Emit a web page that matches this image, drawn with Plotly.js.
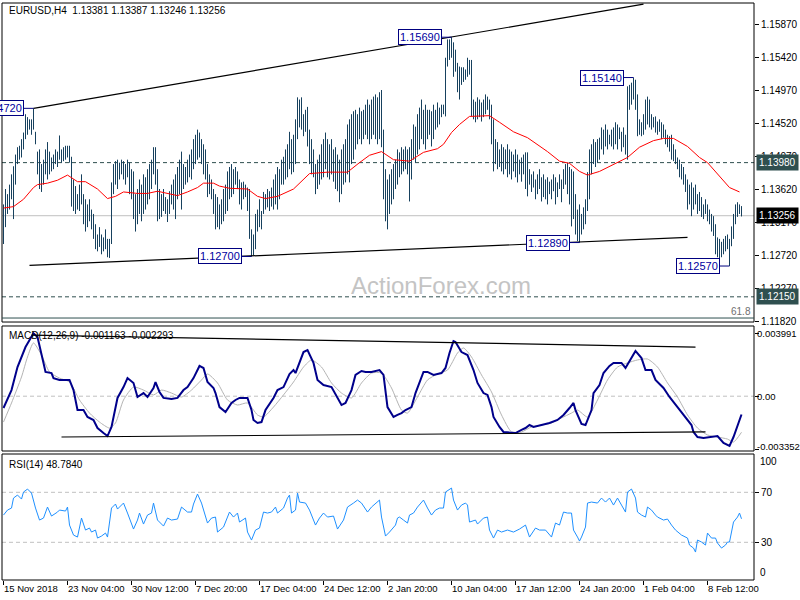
<!DOCTYPE html>
<html>
<head>
<meta charset="utf-8">
<script src="https://cdn.plot.ly/plotly-3.0.1.min.js"></script>
<style>html,body{margin:0;padding:0;background:#fff;}#chart{width:800px;height:600px;}</style>
</head>
<body>
<div id="chart"></div>
<script>
// ---------------- DATA ----------------
const xTickIdx = [0,32,64,96,128,160,192,224,256,288,320,352];
const xTickText = ['15 Nov 2018','23 Nov 04:00','30 Nov 12:00','7 Dec 20:00','17 Dec 04:00','24 Dec 12:00','2 Jan 20:00','10 Jan 04:00','17 Jan 12:00','24 Jan 20:00','1 Feb 04:00','8 Feb 12:00'];
const priceTicks = [1.1587,1.1542,1.1497,1.1452,1.1407,1.1362,1.1317,1.1272,1.1227,1.1182];

const priceHigh = [
1.1341,1.1362,1.1355,1.1368,1.1382,1.1393,1.1409,1.1419,1.1421,1.1430,
1.1439,1.1464,1.1460,1.1457,1.1457,1.1472,1.1440,1.1413,1.1416,1.1396,
1.1402,1.1416,1.1426,1.1413,1.1405,1.1409,1.1416,1.1413,1.1435,1.1416,
1.1419,1.1421,1.1421,1.1421,1.1406,1.1375,1.1366,1.1355,1.1368,1.1382,
1.1355,1.1348,1.1341,1.1348,1.1334,1.1328,1.1314,1.1300,1.1310,1.1300,
1.1296,1.1307,1.1294,1.1294,1.1371,1.1396,1.1400,1.1402,1.1398,1.1402,
1.1400,1.1396,1.1402,1.1398,1.1389,1.1386,1.1355,1.1362,1.1375,1.1368,
1.1382,1.1378,1.1389,1.1396,1.1402,1.1419,1.1419,1.1389,1.1362,1.1355,
1.1362,1.1351,1.1348,1.1359,1.1368,1.1375,1.1382,1.1392,1.1402,1.1413,
1.1396,1.1392,1.1402,1.1409,1.1416,1.1430,1.1436,1.1443,1.1439,1.1430,
1.1423,1.1416,1.1396,1.1382,1.1375,1.1362,1.1355,1.1351,1.1341,1.1348,
1.1362,1.1368,1.1386,1.1392,1.1396,1.1389,1.1392,1.1386,1.1375,1.1371,
1.1372,1.1368,1.1364,1.1362,1.1307,1.1300,1.1328,1.1334,1.1348,1.1332,
1.1358,1.1355,1.1362,1.1359,1.1364,1.1375,1.1382,1.1392,1.1389,1.1402,
1.1406,1.1416,1.1423,1.1440,1.1430,1.1436,1.1457,1.1487,1.1484,1.1487,
1.1464,1.1470,1.1474,1.1443,1.1430,1.1416,1.1396,1.1402,1.1409,1.1423,
1.1430,1.1439,1.1430,1.1423,1.1430,1.1416,1.1419,1.1409,1.1402,1.1416,
1.1423,1.1430,1.1450,1.1457,1.1464,1.1468,1.1470,1.1464,1.1473,1.1468,
1.1470,1.1477,1.1484,1.1477,1.1484,1.1488,1.1491,1.1487,1.1494,1.1497,
1.1443,1.1389,1.1375,1.1382,1.1389,1.1396,1.1402,1.1416,1.1412,1.1419,
1.1416,1.1420,1.1416,1.1419,1.1430,1.1450,1.1447,1.1464,1.1473,1.1484,
1.1470,1.1477,1.1470,1.1470,1.1468,1.1477,1.1470,1.1480,1.1473,1.1477,
1.1477,1.1541,1.1566,1.1566,1.1569,1.1562,1.1552,1.1534,1.1529,1.1528,
1.1528,1.1525,1.1541,1.1538,1.1538,1.1484,1.1481,1.1487,1.1484,1.1480,
1.1484,1.1491,1.1488,1.1484,1.1477,1.1457,1.1430,1.1426,1.1416,1.1423,
1.1419,1.1416,1.1423,1.1416,1.1413,1.1409,1.1416,1.1409,1.1402,1.1405,
1.1409,1.1412,1.1412,1.1389,1.1382,1.1386,1.1375,1.1382,1.1389,1.1378,
1.1382,1.1375,1.1378,1.1372,1.1375,1.1382,1.1378,1.1371,1.1382,1.1375,
1.1389,1.1396,1.1398,1.1392,1.1389,1.1386,1.1355,1.1334,1.1341,1.1328,
1.1337,1.1348,1.1385,1.1416,1.1423,1.1430,1.1426,1.1430,1.1432,1.1446,
1.1443,1.1450,1.1443,1.1436,1.1443,1.1446,1.1453,1.1450,1.1446,1.1440,
1.1446,1.1436,1.1502,1.1504,1.1507,1.1514,1.1511,1.1491,1.1457,1.1453,
1.1464,1.1484,1.1488,1.1484,1.1464,1.1460,1.1461,1.1454,1.1457,1.1453,
1.1450,1.1443,1.1436,1.1434,1.1436,1.1423,1.1416,1.1405,1.1402,1.1396,
1.1392,1.1382,1.1375,1.1368,1.1371,1.1364,1.1368,1.1355,1.1358,1.1351,
1.1341,1.1348,1.1341,1.1334,1.1328,1.1325,1.1314,1.1296,1.1294,1.1290,
1.1294,1.1298,1.1300,1.1294,1.1311,1.1328,1.1341,1.1344,1.1341,1.13387];

const priceLow = [
1.1287,1.1310,1.1328,1.1334,1.1348,1.1321,1.1368,1.1396,1.1402,1.1405,
1.1416,1.1430,1.1436,1.1443,1.1436,1.1443,1.1423,1.1382,1.1362,1.1358,
1.1368,1.1382,1.1375,1.1382,1.1386,1.1389,1.1396,1.1392,1.1402,1.1398,
1.1400,1.1402,1.1405,1.1398,1.1338,1.1332,1.1328,1.1334,1.1332,1.1341,
1.1314,1.1304,1.1310,1.1318,1.1307,1.1294,1.1280,1.1277,1.1283,1.1273,
1.1277,1.1280,1.1269,1.1268,1.1287,1.1355,1.1368,1.1362,1.1375,1.1382,
1.1375,1.1368,1.1378,1.1355,1.1348,1.1321,1.1304,1.1314,1.1328,1.1318,
1.1328,1.1334,1.1341,1.1348,1.1362,1.1382,1.1368,1.1318,1.1321,1.1324,
1.1332,1.1328,1.1317,1.1328,1.1341,1.1334,1.1321,1.1348,1.1355,1.1334,
1.1362,1.1368,1.1371,1.1378,1.1375,1.1389,1.1396,1.1402,1.1405,1.1396,
1.1382,1.1375,1.1351,1.1355,1.1348,1.1328,1.1307,1.1310,1.1307,1.1314,
1.1318,1.1328,1.1332,1.1348,1.1351,1.1355,1.1368,1.1362,1.1341,1.1334,
1.1348,1.1351,1.1332,1.1294,1.1270,1.1272,1.1280,1.1304,1.1310,1.1307,
1.1328,1.1334,1.1337,1.1332,1.1338,1.1334,1.1341,1.1334,1.1348,1.1368,
1.1368,1.1375,1.1378,1.1389,1.1382,1.1385,1.1396,1.1430,1.1446,1.1443,
1.1434,1.1440,1.1420,1.1396,1.1382,1.1378,1.1355,1.1362,1.1368,1.1375,
1.1378,1.1389,1.1378,1.1375,1.1382,1.1372,1.1362,1.1359,1.1344,1.1355,
1.1368,1.1371,1.1382,1.1371,1.1396,1.1402,1.1416,1.1423,1.1430,1.1423,
1.1430,1.1436,1.1430,1.1423,1.1430,1.1436,1.1430,1.1423,1.1430,1.1419,
1.1348,1.1318,1.1307,1.1328,1.1341,1.1348,1.1362,1.1368,1.1378,1.1382,
1.1386,1.1389,1.1382,1.1345,1.1375,1.1402,1.1398,1.1409,1.1416,1.1430,
1.1423,1.1416,1.1430,1.1436,1.1420,1.1430,1.1443,1.1446,1.1450,1.1460,
1.1464,1.1461,1.1529,1.1538,1.1541,1.1515,1.1522,1.1494,1.1484,1.1504,
1.1508,1.1511,1.1515,1.1518,1.1461,1.1457,1.1453,1.1457,1.1460,1.1454,
1.1460,1.1464,1.1470,1.1457,1.1423,1.1386,1.1396,1.1389,1.1392,1.1386,
1.1382,1.1389,1.1378,1.1382,1.1375,1.1386,1.1378,1.1371,1.1382,1.1372,
1.1382,1.1362,1.1352,1.1368,1.1358,1.1364,1.1348,1.1355,1.1362,1.1345,
1.1351,1.1348,1.1341,1.1355,1.1348,1.1359,1.1341,1.1351,1.1362,1.1344,
1.1362,1.1368,1.1355,1.1341,1.1311,1.1321,1.1300,1.1291,1.1289,1.1300,
1.1307,1.1314,1.1332,1.1348,1.1382,1.1396,1.1392,1.1398,1.1402,1.1416,
1.1409,1.1420,1.1416,1.1423,1.1420,1.1416,1.1423,1.1416,1.1430,1.1413,
1.1419,1.1409,1.1402,1.1470,1.1477,1.1484,1.1470,1.1434,1.1436,1.1434,
1.1436,1.1443,1.1450,1.1446,1.1443,1.1446,1.1439,1.1436,1.1440,1.1430,
1.1432,1.1423,1.1419,1.1413,1.1402,1.1400,1.1396,1.1389,1.1378,1.1375,
1.1368,1.1358,1.1334,1.1341,1.1325,1.1334,1.1341,1.1328,1.1332,1.1324,
1.1321,1.1328,1.1318,1.1314,1.1304,1.1298,1.1273,1.1269,1.1266,1.1269,
1.1273,1.1277,1.1280,1.1257,1.1284,1.1294,1.1314,1.1324,1.1328,1.13246];

const maIdx = [0,5,10,15,17,22,27,32,37,41,47,52,56,60,67,72,77,82,87,92,97,100,105,108,113,122,127,131,137,145,153,162,172,178,183,189,195,203,210,217,220,224,228,233,238,243,248,255,262,272,278,283,288,292,298,305,312,318,325,330,335,342,348,352,358,363,368];
const maVal = [1.1336,1.1338,1.1348,1.1364,1.1368,1.1370,1.1374,1.1381,1.1372,1.1372,1.1362,1.1349,1.1352,1.1358,1.1356,1.1356,1.1359,1.1356,1.1353,1.1358,1.1364,1.1370,1.1370,1.1366,1.1363,1.1362,1.1352,1.1349,1.1352,1.1362,1.1383,1.1385,1.1385,1.1398,1.1408,1.1413,1.1402,1.1400,1.1412,1.1417,1.1423,1.1439,1.1450,1.1461,1.1462,1.1462,1.1453,1.1440,1.1432,1.1413,1.1400,1.1397,1.1386,1.1381,1.1386,1.1396,1.1405,1.1419,1.1428,1.1431,1.1431,1.1420,1.1405,1.1398,1.1379,1.1364,1.1358];

const trendUpIdx = [15,320], trendUpVal = [1.1472,1.1614];
const trendLoIdx = [13,342], trendLoVal = [1.1258,1.1296];
const hiLoLabelVal = [1.1472,1.1569,1.1514,1.1270,1.1289,1.1257];
const hiLoLabelBar = [15,224,315,124,288,363];
const levelVals = [1.1398,1.1215];
const lastPrice = 1.13256;
const fibVal = 1.11861;

const macdIdx = [0,4,7,11,15,17,20,21,24,25,
28,33,35,37,40,42,45,47,50,52,
54,57,60,62,65,67,70,72,75,76,
78,80,84,87,90,92,95,98,100,102,
105,106,108,111,114,116,118,122,124,125,
127,129,131,135,137,140,143,145,146,148,
150,152,155,157,160,164,167,169,171,174,
176,179,181,184,188,190,192,195,197,199,
201,204,206,210,212,215,219,221,223,225,
226,229,232,235,237,240,242,244,245,248,
250,254,256,259,261,263,265,269,273,277,
280,283,285,286,289,291,294,295,298,300,
303,305,309,311,314,316,319,321,324,326,
330,333,337,340,344,345,347,350,353,357,
360,363,365,368,369];
const macdVal = [-0.00075,0.00039,0.00185,0.00312,0.00399,0.00376,0.00211,0.00154,0.00147,0.00115,
0.00103,0.00103,0.00039,-0.00088,-0.00088,-0.00132,-0.00151,-0.00202,-0.00234,-0.00253,
-0.00195,-0.00011,0.00058,0.00115,0.00084,-0.00005,0.00020,-0.00005,0.00052,0.00090,
0.00027,-0.00011,-0.00018,-0.00011,0.00039,0.00058,0.00115,0.00192,0.00179,0.00090,
0.00052,0.00020,-0.00069,-0.00100,-0.00043,-0.00024,-0.00011,-0.00011,-0.00088,-0.00151,
-0.00170,-0.00164,-0.00088,-0.00011,0.00039,0.00058,0.00141,0.00166,0.00147,0.00211,
0.00280,0.00293,0.00211,0.00103,0.00071,0.00058,-0.00011,-0.00056,-0.00043,0.00039,
0.00135,0.00160,0.00154,0.00154,0.00166,0.00135,-0.00069,-0.00132,-0.00119,-0.00107,
-0.00088,-0.00069,0.00020,0.00154,0.00154,0.00135,0.00147,0.00179,0.00274,0.00350,
0.00344,0.00280,0.00261,0.00166,0.00084,0.00020,0.00008,-0.00069,-0.00132,-0.00195,
-0.00227,-0.00234,-0.00234,-0.00214,-0.00202,-0.00183,-0.00195,-0.00183,-0.00170,-0.00151,
-0.00119,-0.00075,-0.00043,-0.00088,-0.00176,-0.00183,-0.00088,0.00020,0.00071,0.00147,
0.00192,0.00211,0.00211,0.00179,0.00249,0.00287,0.00242,0.00166,0.00166,0.00103,
0.00052,-0.00005,-0.00069,-0.00119,-0.00183,-0.00227,-0.00259,-0.00265,-0.00259,-0.00253,
-0.00297,-0.00316,-0.00259,-0.00151,-0.00116];

const sigIdx = [0,4,9,12,15,19,23,28,33,38,43,48,53,56,60,65,70,75,79,84,89,94,99,102,107,112,117,122,127,130,135,140,145,150,154,159,164,169,174,179,184,189,194,199,202,207,212,217,222,227,230,234,239,244,249,254,259,264,269,274,279,284,287,292,297,302,307,312,317,322,327,332,337,342,347,352,357,362,365,369];
const sigVal = [-0.00164,-0.00043,0.00122,0.00249,0.00338,0.00261,0.00154,0.00115,0.00090,-0.00024,-0.00107,-0.00164,-0.00202,-0.00170,-0.00024,0.00058,0.00039,0.00008,0.00039,0.00020,-0.00005,0.00039,0.00103,0.00141,0.00084,-0.00024,-0.00056,-0.00043,-0.00119,-0.00132,-0.00069,0.00008,0.00090,0.00185,0.00230,0.00185,0.00084,0.00020,-0.00011,0.00084,0.00147,0.00147,0.00052,-0.00088,-0.00107,-0.00005,0.00103,0.00141,0.00166,0.00274,0.00306,0.00249,0.00135,0.00027,-0.00119,-0.00227,-0.00227,-0.00195,-0.00183,-0.00170,-0.00138,-0.00107,-0.00088,-0.00132,-0.00024,0.00103,0.00185,0.00211,0.00230,0.00236,0.00185,0.00084,-0.00005,-0.00119,-0.00202,-0.00246,-0.00259,-0.00272,-0.00291,-0.00229];
const macdTrUpIdx = [14,346], macdTrUpVal = [0.00388,0.00312];
const macdTrLoIdx = [29,351], macdTrLoVal = [-0.00259,-0.00227];
const macdScaleVals = [0.003991, 0, -0.003352];

const rsiIdx = [0,2,4,5,7,9,10,12,14,16,18,20,22,24,27,28,31,32,33,35,37,39,41,43,44,46,47,49,51,52,54,56,57,60,62,65,67,68,70,72,74,75,77,80,82,84,87,89,92,94,95,97,99,102,104,106,107,110,112,113,115,117,118,121,122,124,126,128,130,132,134,136,137,140,142,143,144,146,147,148,151,153,156,158,160,162,165,167,170,172,175,177,179,182,184,187,188,189,191,193,196,197,198,200,202,203,205,207,210,212,214,216,218,220,221,224,225,227,229,231,232,233,236,237,240,242,243,245,247,249,252,255,258,261,263,266,268,271,274,276,278,280,282,284,285,287,288,289,291,292,294,297,299,301,303,305,307,309,311,312,314,316,317,319,321,322,324,326,327,330,332,334,336,339,342,343,345,346,347,349,351,352,354,356,357,359,361,362,363,365,367,368,369];
const rsiVal = [51.8,55.8,57.4,65.4,67.8,64.6,70.2,72.6,69.4,57.4,47.8,49.4,58.2,51,54.2,55.8,55,58.2,43.8,35.8,34.2,49.4,39.8,41.4,38.2,39.8,33.4,35,37.4,34.2,57.4,60.6,56.6,61.4,53.4,40.6,47.8,53.4,44.6,51.8,53.4,61.4,47.8,43,49.4,47.8,48.6,58.2,54.2,54.2,60.6,68.6,61.4,45.4,49.4,50.2,38.2,42.2,50.2,54.2,50.2,53.4,46.2,49.4,38.2,31.8,39.8,41.4,54.2,53.4,54.2,58.2,53.4,57.4,65.4,67.8,53.4,55.8,69.4,62.2,61.4,55.8,43.8,49.4,53.4,50.2,51,40.6,47.8,58.2,61.4,63.8,61.4,54.2,58.2,63,63.8,50.2,35,38.2,43.8,49.4,50.2,47.8,45.4,51.8,53.4,58.2,63.8,57.4,51.8,55.8,57.4,57.4,70.2,73.4,63.8,55.8,59.8,61.4,59.8,46.2,47.8,44.6,49.4,50.2,39.8,33.4,39.8,38.2,39.8,38.2,40.6,43.8,34.2,41.4,39.8,39.8,34.2,45.4,43.8,54.2,53.4,53.4,39.8,34.2,31,34.2,42.2,61.4,62.2,61.4,65.4,62.2,65.4,59.8,65.4,59.8,54.2,70.2,72.6,65.4,54.2,51.8,50.2,58.2,55.8,51.8,50.2,47.8,48.6,43.8,39.8,35.8,33.4,27.8,25.4,22.2,31.8,30.2,27.8,37.4,33.4,33.4,29.4,25.4,27.8,30.2,30.2,46.2,50.2,53.4,48.8];

// ---------------- BUILD ----------------
const FONT = 'Liberation Sans, Arial, sans-serif';
const barX = [], barY = [];
for (let i = 0; i < priceHigh.length; i++) {
  barX.push(i, i, null);
  barY.push(priceLow[i], priceHigh[i], null);
}

const traces = [
  {type:'scatter', mode:'lines', x:barX, y:barY, xaxis:'x', yaxis:'y', line:{color:'#17415e', width:1}, hoverinfo:'skip', connectgaps:false},
  {type:'scatter', mode:'lines', x:maIdx, y:maVal, xaxis:'x', yaxis:'y', line:{color:'#ff0000', width:1}, hoverinfo:'skip'},
  {type:'scatter', mode:'lines', x:trendUpIdx, y:trendUpVal, xaxis:'x', yaxis:'y', line:{color:'#000', width:1.2}, hoverinfo:'skip'},
  {type:'scatter', mode:'lines', x:trendLoIdx, y:trendLoVal, xaxis:'x', yaxis:'y', line:{color:'#000', width:1.2}, hoverinfo:'skip'},
  {type:'scatter', mode:'lines', x:sigIdx, y:sigVal, xaxis:'x', yaxis:'y2', line:{color:'#b4b4b4', width:1, shape:'spline', smoothing:0.6}, hoverinfo:'skip'},
  {type:'scatter', mode:'lines', x:macdIdx, y:macdVal, xaxis:'x', yaxis:'y2', line:{color:'#00008b', width:2}, hoverinfo:'skip'},
  {type:'scatter', mode:'lines', x:macdTrUpIdx, y:macdTrUpVal, xaxis:'x', yaxis:'y2', line:{color:'#000', width:1.2}, hoverinfo:'skip'},
  {type:'scatter', mode:'lines', x:macdTrLoIdx, y:macdTrLoVal, xaxis:'x', yaxis:'y2', line:{color:'#000', width:1.2}, hoverinfo:'skip'},
  {type:'scatter', mode:'lines', x:rsiIdx, y:rsiVal, xaxis:'x', yaxis:'y3', line:{color:'#1e90ff', width:1}, hoverinfo:'skip'}
];

const shapes = [];
const annotations = [];
['y','y2','y3'].forEach(ax => shapes.push({type:'rect', xref:'paper', yref:ax+' domain', x0:0, x1:1, y0:0, y1:1, line:{color:'#000', width:1}, layer:'above'}));
levelVals.forEach(v => shapes.push({type:'line', xref:'paper', yref:'y', x0:0, x1:1, y0:v, y1:v, line:{color:'#2f4f4f', width:1, dash:'4px,3px'}, layer:'below'}));
shapes.push({type:'line', xref:'paper', yref:'y', x0:0, x1:1, y0:lastPrice, y1:lastPrice, line:{color:'#c0c0c0', width:1}, layer:'below'});
shapes.push({type:'line', xref:'paper', yref:'y', x0:0, x1:1, y0:fibVal, y1:fibVal, line:{color:'#2f4f4f', width:1}, layer:'above'});
shapes.push({type:'line', xref:'paper', yref:'y2', x0:0, x1:1, y0:0, y1:0, line:{color:'#c0c0c0', width:1, dash:'4px,3px'}, layer:'below'});
[70,30].forEach(v => shapes.push({type:'line', xref:'paper', yref:'y3', x0:0, x1:1, y0:v, y1:v, line:{color:'#c0c0c0', width:1, dash:'4px,3px'}, layer:'below'}));

hiLoLabelVal.forEach((v,k) => {
  const b = hiLoLabelBar[k];
  shapes.push({type:'line', xref:'x', yref:'y', x0:b-5, x1:b, y0:v, y1:v, line:{color:'#000080', width:1}});
  annotations.push({xref:'x', yref:'y', x:b-5, y:v, xanchor:'right', yanchor:'middle', text:v.toFixed(5), showarrow:false,
    bgcolor:'#ffffff', bordercolor:'#000080', borderwidth:1, borderpad:1, font:{family:FONT, size:11, color:'#0000a0'}});
});

function tag(v, bg) {
  annotations.push({xref:'paper', yref:'y', x:1, y:v, xanchor:'left', yanchor:'middle', xshift:2, text:v.toFixed(5), showarrow:false,
    bgcolor:bg, borderpad:2, font:{family:FONT, size:10, color:'#ffffff'}});
}
tag(levelVals[0], '#2f4f4f');
tag(levelVals[1], '#2f4f4f');
tag(lastPrice, '#000000');

function px2py(py){ return (580 - py) / 577; }
function px2px(px){ return (px - 2) / 752; }
annotations.push({xref:'paper', yref:'paper', x:px2px(7), y:px2py(11), xanchor:'left', yanchor:'middle', showarrow:false,
  text:'EURUSD,H4\u00a0\u00a01.13381 1.13387 1.13246 1.13256', font:{family:FONT, size:10, color:'#000'}});
annotations.push({xref:'paper', yref:'paper', x:px2px(7), y:px2py(335), xanchor:'left', yanchor:'middle', showarrow:false,
  text:'MACD(12,26,9) -0.001163 -0.002293', font:{family:FONT, size:10, color:'#000'}});
annotations.push({xref:'paper', yref:'paper', x:px2px(7), y:px2py(464), xanchor:'left', yanchor:'middle', showarrow:false,
  text:'RSI(14) 48.7840', font:{family:FONT, size:10, color:'#000'}});
annotations.push({xref:'paper', yref:'paper', x:1, y:px2py(312), xanchor:'right', yanchor:'middle', xshift:-1, showarrow:false,
  text:'61.8', font:{family:FONT, size:10, color:'#707070'}});
annotations.push({xref:'paper', yref:'paper', x:px2px(441), y:px2py(285), xanchor:'center', yanchor:'middle', showarrow:false,
  text:'ActionForex.com', font:{family:FONT, size:24, color:'#c4c4c4'}});
const macdLabelPy = [333, 396, 446];
macdScaleVals.forEach((v,k) => annotations.push({xref:'paper', yref:'paper', x:1, y:px2py(macdLabelPy[k]), xanchor:'left', yanchor:'middle', xshift:1, showarrow:false,
  text: v === 0 ? '0.00' : v.toFixed(6), font:{family:FONT, size:9.5, color:'#000'}}));
annotations.push({xref:'paper', yref:'paper', x:1, y:px2py(461), xanchor:'left', yanchor:'middle', xshift:4, showarrow:false,
  text:'100', font:{family:FONT, size:10, color:'#000'}});
annotations.push({xref:'paper', yref:'paper', x:1, y:px2py(572), xanchor:'left', yanchor:'middle', xshift:4, showarrow:false,
  text:'0', font:{family:FONT, size:10, color:'#000'}});

const yCommon = {side:'right', anchor:'x', showgrid:false, zeroline:false, showline:false, ticks:'outside', ticklen:4, tickcolor:'#000', tickwidth:1,
  tickfont:{family:FONT, size:10, color:'#000'}, fixedrange:true};

const layout = {
  width:800, height:600,
  margin:{l:2, r:46, t:3, b:20, pad:0},
  paper_bgcolor:'#ffffff', plot_bgcolor:'#ffffff',
  showlegend:false,
  font:{family:FONT, size:10, color:'#000'},
  xaxis:{anchor:'y3', range:[-0.75, 375.25], tickmode:'array', tickvals:xTickIdx, ticktext:xTickText, ticks:'outside', ticklen:4,
    tickcolor:'#000', tickangle:0, ticklabelposition:'outside right', showgrid:false, zeroline:false, showline:false,
    tickfont:{family:FONT, size:9.5, color:'#000'}, fixedrange:true},
  yaxis:Object.assign({}, yCommon, {domain:[0.4471, 1], range:[1.118064, 1.161564], tickmode:'array', tickvals:priceTicks, ticktext:priceTicks.map(v => v.toFixed(5))}),
  yaxis2:Object.assign({}, yCommon, {domain:[0.22357, 0.44021], range:[-0.003478, 0.004455], tickmode:'array', tickvals:[0.003991, 0, -0.003352], ticktext:['','','']}),
  yaxis3:Object.assign({}, yCommon, {domain:[0, 0.21837], range:[-0.16, 100.64], tickmode:'array', tickvals:[70, 30], ticktext:['70','30']}),
  shapes:shapes,
  annotations:annotations
};

Plotly.newPlot('chart', traces, layout, {displayModeBar:false, staticPlot:true});
</script>
</body>
</html>
